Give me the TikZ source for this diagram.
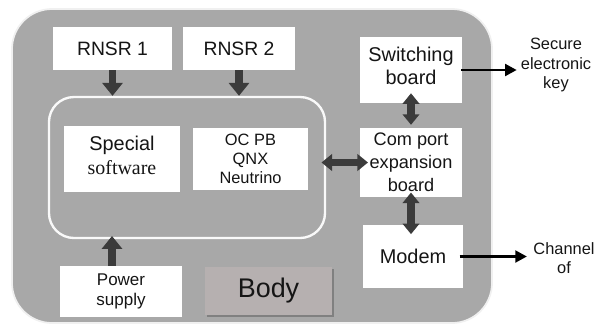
\documentclass[tikz,border=0pt]{standalone}
\usepackage{fontspec}
\setmainfont{Liberation Sans}
\newfontfamily\swfont{Liberation Serif}
\usetikzlibrary{arrows.meta,positioning,shadows}
\definecolor{framegray}{HTML}{A8A8A8}
\definecolor{bodyfill}{HTML}{B6B0B0}
\definecolor{arrowgray}{HTML}{3B3B3B}
\definecolor{txt}{HTML}{151515}

\begin{document}
\begin{tikzpicture}[x=0.03cm,y=-0.03cm,
  box/.style={fill=white,inner sep=0pt,align=center,text=txt},
  fatarr/.style={draw=arrowgray,line width=6pt,-{Triangle[width=17pt,length=11pt]}},
  fatboth/.style={draw=arrowgray,line width=6pt,{Triangle[width=14pt,length=9pt]}-{Triangle[width=14pt,length=9pt]}},
  outarr/.style={draw=black,line width=2.5pt,-{Triangle[width=10pt,length=10pt]}}]
\useasboundingbox (0,0) rectangle (598,325);

% frames
\node[draw=white!88!gray,line width=1.5pt,fill=framegray,rounded corners=1.2cm,
  minimum width=14.4cm,minimum height=9.42cm] (device) at (252,166) {};
\node[draw=white!95!gray,line width=2pt,rounded corners=0.75cm,
  minimum width=8.28cm,minimum height=4.23cm] (core) at (187,167.5) {};

% boxes
\node[box,minimum width=3.57cm,minimum height=1.29cm,font=\fontsize{16.5}{19}\selectfont] (rnsrA) at (112.5,48.5) {RNSR 1};
\node[box,minimum width=3.36cm,minimum height=1.29cm,font=\fontsize{16.5}{19}\selectfont] (rnsrB) at (239,48.5) {RNSR 2};
\node[box,minimum width=3.48cm,minimum height=1.98cm,font=\fontsize{17}{20.5}\selectfont] (special) at (122,159) {};
\node[align=center,text=txt,font=\fontsize{17}{20.5}\selectfont,inner sep=0pt] at (122,155)
  {Special\\{\swfont software}};
\node[box,minimum width=3.45cm,minimum height=1.86cm,font=\fontsize{14}{16}\selectfont] (ocpb) at (250.5,159)
  {OC PB\\QNX\\Neutrino};
\node[box,minimum width=3.06cm,minimum height=1.98cm] (switching) at (411,70) {};
\node[align=center,text=txt,font=\fontsize{17}{19}\selectfont,inner sep=0pt] at (411,66)
  {Switching\\board};
\node[box,minimum width=3.06cm,minimum height=2.07cm,font=\fontsize{15.5}{19.5}\selectfont] (comport) at (411,162.5)
  {Com port\\expansion\\board};
\node[box,minimum width=3.0cm,minimum height=1.89cm,font=\fontsize{17}{20}\selectfont] (modem) at (413,256.5) {Modem};
\node[box,minimum width=3.66cm,minimum height=1.53cm,font=\fontsize{14.5}{17}\selectfont] (power) at (121,291.5)
  {Power\\supply};
\node[fill=bodyfill,inner sep=0pt,text=txt,minimum width=3.81cm,minimum height=1.44cm,
  font=\fontsize{23}{26}\selectfont,
  drop shadow={shadow xshift=1.5pt,shadow yshift=-1.5pt,fill=black!50,opacity=1}] (body) at (268.5,291) {Body};

% outside texts
\node[align=center,text=txt,font=\fontsize{14}{17}\selectfont] (keytext) at (556,65)
  {Secure\\electronic\\key};
\node[align=center,text=txt,font=\fontsize{14}{16.5}\selectfont] (chantext) at (564,258)
  {Channel\\of};

% arrows
\draw[fatarr] (rnsrA.south) -- (rnsrA.south |- core.north);
\draw[fatarr] (rnsrB.south) -- (rnsrB.south |- core.north);
\draw[fatarr] (power.north -| 112,0) -- (112,236);
\draw[fatboth] ([xshift=-4pt]core.east |- comport.west) -- ([xshift=7pt]comport.west);
\draw[fatboth] ([yshift=8.5pt]switching.south) -- ([yshift=2.5pt]comport.north);
\draw[fatboth] ([yshift=4pt]comport.south) -- ([yshift=-8pt]comport.south |- modem.north);
\draw[outarr] ([xshift=-1pt]switching.east) -- (keytext.west |- switching.east);
\draw[outarr] ([xshift=-3pt]modem.east) -- ([xshift=-2pt]chantext.west |- modem.east);
\end{tikzpicture}
\end{document}
